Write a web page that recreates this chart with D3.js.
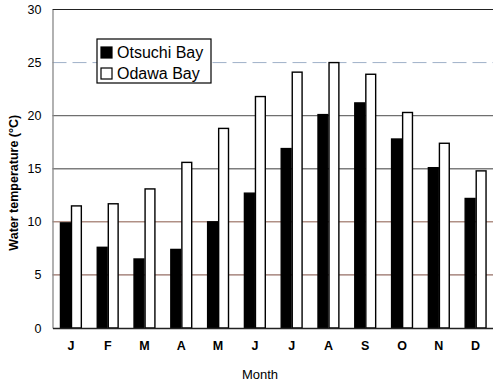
<!DOCTYPE html>
<html>
<head>
<meta charset="utf-8">
<script src="https://cdn.jsdelivr.net/npm/d3@7"></script>
<style>
  html, body { margin: 0; padding: 0; background: #fff; }
  svg { display: block; }
  text { font-family: Arial, "Liberation Sans", sans-serif; fill: #000; }
</style>
</head>
<body>
<svg id="chart" width="493" height="384"></svg>
<script>
// Monthly mean water temperature at two bays
const months = ["J", "F", "M", "A", "M", "J", "J", "A", "S", "O", "N", "D"];
const otsuchi = [9.9, 7.6, 6.5, 7.4, 10.0, 12.7, 16.9, 20.1, 21.2, 17.8, 15.1, 12.2];
const odawa   = [11.5, 11.7, 13.1, 15.6, 18.8, 21.8, 24.1, 25.0, 23.9, 20.3, 17.4, 14.8];
const seriesNames = ["Otsuchi Bay", "Odawa Bay"];
const yTicks = [0, 5, 10, 15, 20, 25, 30];

const svg = d3.select("#chart");
const plotLeft = 52.5, plotRight = 494, plotTop = 9.5, plotBottom = 328;

const x0 = d3.scaleBand()
  .domain(d3.range(months.length))
  .range([plotLeft, plotRight])
  .paddingInner(0.4)
  .paddingOuter(0.2);
const x1 = d3.scaleBand()
  .domain([0, 1])
  .range([0, x0.bandwidth()]);
const y = d3.scaleLinear().domain([0, 30]).range([plotBottom, plotTop]);

// horizontal grid
const gridStyle = {
  5:  { color: "#7a4a3e", dash: null, w: 1 },
  10: { color: "#8a5a4a", dash: null, w: 1 },
  15: { color: "#7d7d7d", dash: null, w: 1.3 },
  20: { color: "#6f6f6f", dash: null, w: 1.3 },
  25: { color: "#9fb0c8", dash: "14,6", w: 1 }
};
svg.append("g").selectAll("line")
  .data(yTicks.filter(v => v > 0 && v < 30))
  .join("line")
  .attr("x1", plotLeft).attr("x2", plotRight)
  .attr("y1", d => y(d)).attr("y2", d => y(d))
  .attr("stroke", d => gridStyle[d].color)
  .attr("stroke-width", d => gridStyle[d].w)
  .attr("stroke-dasharray", d => gridStyle[d].dash);

// frame: top border
svg.append("line")
  .attr("x1", plotLeft).attr("x2", plotRight)
  .attr("y1", y(30)).attr("y2", y(30))
  .attr("stroke", "#222").attr("stroke-width", 1.2);

// bars
const groups = svg.append("g").selectAll("g")
  .data(months.map((m, i) => ({ i, vals: [otsuchi[i], odawa[i]] })))
  .join("g")
  .attr("transform", d => `translate(${x0(d.i)},0)`);
groups.selectAll("rect")
  .data(d => d.vals.map((v, k) => ({ v, k })))
  .join("rect")
  .attr("x", d => x1(d.k) + 0.6)
  .attr("width", x1.bandwidth() - 1.2)
  .attr("y", d => y(d.v))
  .attr("height", d => y(0) - y(d.v))
  .attr("fill", d => d.k === 0 ? "#000" : "#fff")
  .attr("stroke", "#000")
  .attr("stroke-width", 1.4);

// y axis
const yAxis = svg.append("g")
  .attr("transform", `translate(${plotLeft},0)`)
  .call(d3.axisLeft(y).tickValues(yTicks).tickSize(0).tickPadding(11));
yAxis.select(".domain").attr("stroke", "#888").attr("stroke-width", 1.3);
yAxis.selectAll("text")
  .attr("font-size", 12.5)
  .attr("font-family", "Arial, 'Liberation Sans', sans-serif")
  .attr("fill", "#000");

// x axis
const xAxis = svg.append("g")
  .attr("transform", `translate(0,${plotBottom})`)
  .call(d3.axisBottom(x0).tickSize(0).tickPadding(13).tickFormat(i => months[i]));
xAxis.select(".domain").attr("stroke", "#222").attr("stroke-width", 1.3);
xAxis.selectAll("text")
  .attr("font-size", 12.5)
  .attr("font-weight", "bold")
  .attr("font-family", "Arial, 'Liberation Sans', sans-serif")
  .attr("fill", "#000");

// axis titles
svg.append("text")
  .attr("transform", `translate(18,${(plotTop + plotBottom) / 2 + 14}) rotate(-90)`)
  .attr("text-anchor", "middle")
  .attr("font-size", 12.5)
  .attr("font-weight", "bold")
  .text("Water temperature (°C)");
svg.append("text")
  .attr("x", 260).attr("y", 379)
  .attr("text-anchor", "middle")
  .attr("font-size", 13)
  .text("Month");

// legend
const legend = svg.append("g").attr("transform", "translate(97,39)");
legend.append("rect")
  .attr("width", 114).attr("height", 44)
  .attr("fill", "#fff").attr("stroke", "#000").attr("stroke-width", 1.2);
const items = legend.selectAll("g.item")
  .data(seriesNames)
  .join("g").attr("class", "item")
  .attr("transform", (d, k) => `translate(4,${8 + k * 21})`);
items.append("rect")
  .attr("width", 11).attr("height", 11)
  .attr("fill", (d, k) => k === 0 ? "#000" : "#fff")
  .attr("stroke", "#000").attr("stroke-width", 1.2);
items.append("text")
  .attr("x", 16).attr("y", 11)
  .attr("font-size", 16)
  .text(d => d);
</script>
</body>
</html>
